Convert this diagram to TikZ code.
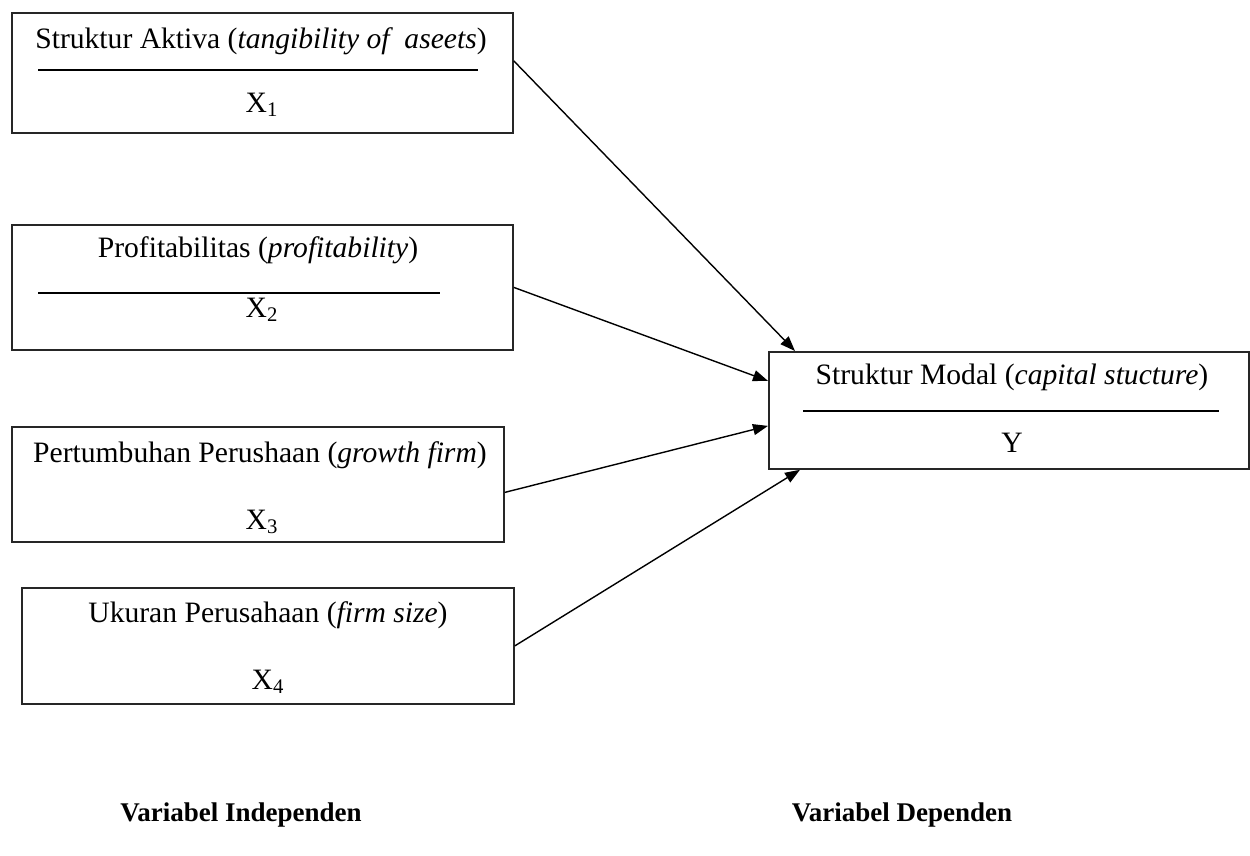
\documentclass[tikz,border=0pt]{standalone}
\usepackage{fontspec}
\setmainfont{Liberation Serif}
\usetikzlibrary{positioning,arrows.meta}

\begin{document}
\begin{tikzpicture}
    [x=0.5pt, y=-0.5pt, font=\fontsize{14.8}{17}\selectfont,
    % every node/.style={draw, rectangle},
    varbox/.style={draw=black!85, line width=0.9pt, rectangle, inner sep=0pt, anchor=north west},
    rule/.style={draw=black, line width=0.8pt},
    link/.style={draw=black, line width=0.7pt, -{Triangle[length=7.5pt, width=5.5pt]}},
    caption/.style={font=\fontsize{13.5}{16}\selectfont\bfseries}]
    \useasboundingbox (0,0) rectangle (1250,856);

    % independent variables
    \node[varbox, minimum width=250.5pt, minimum height=60pt] (aktiva) at (11,12) {};
    \node (aktivaT) at (261,41) {Struktur Aktiva (\textit{tangibility of\ \ aseets})};
    \node (aktivaX) at (262,105) {X\textsubscript{1}};
    \draw[rule] (38,70) -- (478,70);

    \node[varbox, minimum width=250.5pt, minimum height=62.5pt] (profit) at (11,224) {};
    \node (profitT) at (258,250) {Profitabilitas (\textit{profitability})};
    \node (profitX) at (262,310) {X\textsubscript{2}};
    \draw[rule] (38,293) -- (440,293);

    \node[varbox, minimum width=246pt, minimum height=57.5pt] (growth) at (11,426) {};
    \node (growthT) at (260,455) {Pertumbuhan Perushaan (\textit{growth firm})};
    \node (growthX) at (262,522) {X\textsubscript{3}};

    \node[varbox, minimum width=246pt, minimum height=58pt] (size) at (21,587) {};
    \node (sizeT) at (268,615) {Ukuran Perusahaan (\textit{firm size})};
    \node (sizeX) at (268,682) {X\textsubscript{4}};

    % dependent variable
    \node[varbox, minimum width=240pt, minimum height=58.5pt] (modal) at (768,351) {};
    \node (modalT) at (1012,377) {Struktur Modal (\textit{capital stucture})};
    \node (modalY) at (1012,443) {Y};
    \draw[rule] (803,411) -- (1219,411);

    \draw[link] ([yshift=6pt]aktiva.east) -- ([xshift=13.5pt]modal.north west);
    \draw[link] (profit.east) -- ([yshift=14.75pt]modal.west);
    \draw[link] ([yshift=-4pt]growth.east) -- ([yshift=-7.75pt]modal.west);
    \draw[link] (size.east) -- ([xshift=16pt]modal.south west);

    \node[caption] (indep) at (241,815) {Variabel Independen};
    \node[caption] (dep) at (902,815) {Variabel Dependen};
\end{tikzpicture}
\end{document}
